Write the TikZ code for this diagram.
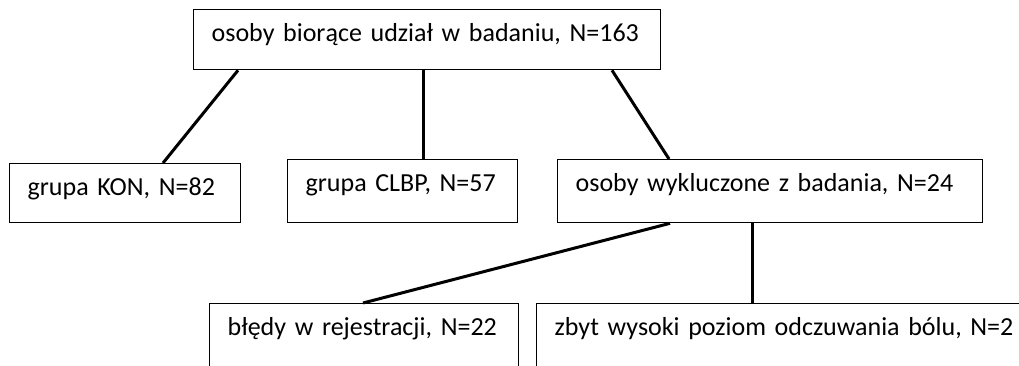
\documentclass[tikz,border=0pt]{standalone}
\usepackage{fontspec}
\setmainfont{Carlito}[WordSpace={0.75,0,0}]
\usepackage{tikz}
\usetikzlibrary{positioning}

\tikzset{
  box/.style={draw, line width=1.3pt, anchor=north west, align=left,
    inner xsep=18pt, inner ysep=8pt, text height=24pt,
    font=\fontsize{26}{30}\selectfont},
  link/.style={line width=3pt}
}

\begin{document}
\begin{tikzpicture}[x=1pt,y=1pt,yscale=-1,xscale=1]
%set diagram left start at 0, and has height of 365
\useasboundingbox (0,0) rectangle (1019,365);

% Text Node
\node [box, text width=431, text depth=20] (osoby) at (193,9) {osoby biorące udział w badaniu, N=163};
% Text Node
\node [box, text width=195, text depth=19] (kon) at (9,163) {grupa KON, N=82};
% Text Node
\node [box, text width=194, text depth=23] (clbp) at (287,159) {grupa CLBP, N=57};
% Text Node
\node [box, text width=389, text depth=23] (wykl) at (557,159) {osoby wykluczone z badania, N=24};
% Text Node
\node [box, text width=273, text depth=40] (bledy) at (209,303) {błędy w rejestracji, N=22};
% Text Node
\node [box, text width=500, text depth=40] (zbyt) at (536,303) {zbyt wysoki poziom odczuwania bólu, N=2};

%Straight Lines
\draw [link] ([xshift=45pt]osoby.south west) -- ([xshift=154pt]kon.north west);
%Straight Lines
\draw [link] ([xshift=230pt]osoby.south west) -- ([xshift=136pt]clbp.north west);
%Straight Lines
\draw [link] ([xshift=419pt]osoby.south west) -- ([xshift=112pt]wykl.north west);
%Straight Lines
\draw [link] ([xshift=113pt]wykl.south west) -- ([xshift=154pt]bledy.north west);
%Straight Lines
\draw [link] ([xshift=195pt]wykl.south west) -- ([xshift=216pt]zbyt.north west);

\end{tikzpicture}
\end{document}
